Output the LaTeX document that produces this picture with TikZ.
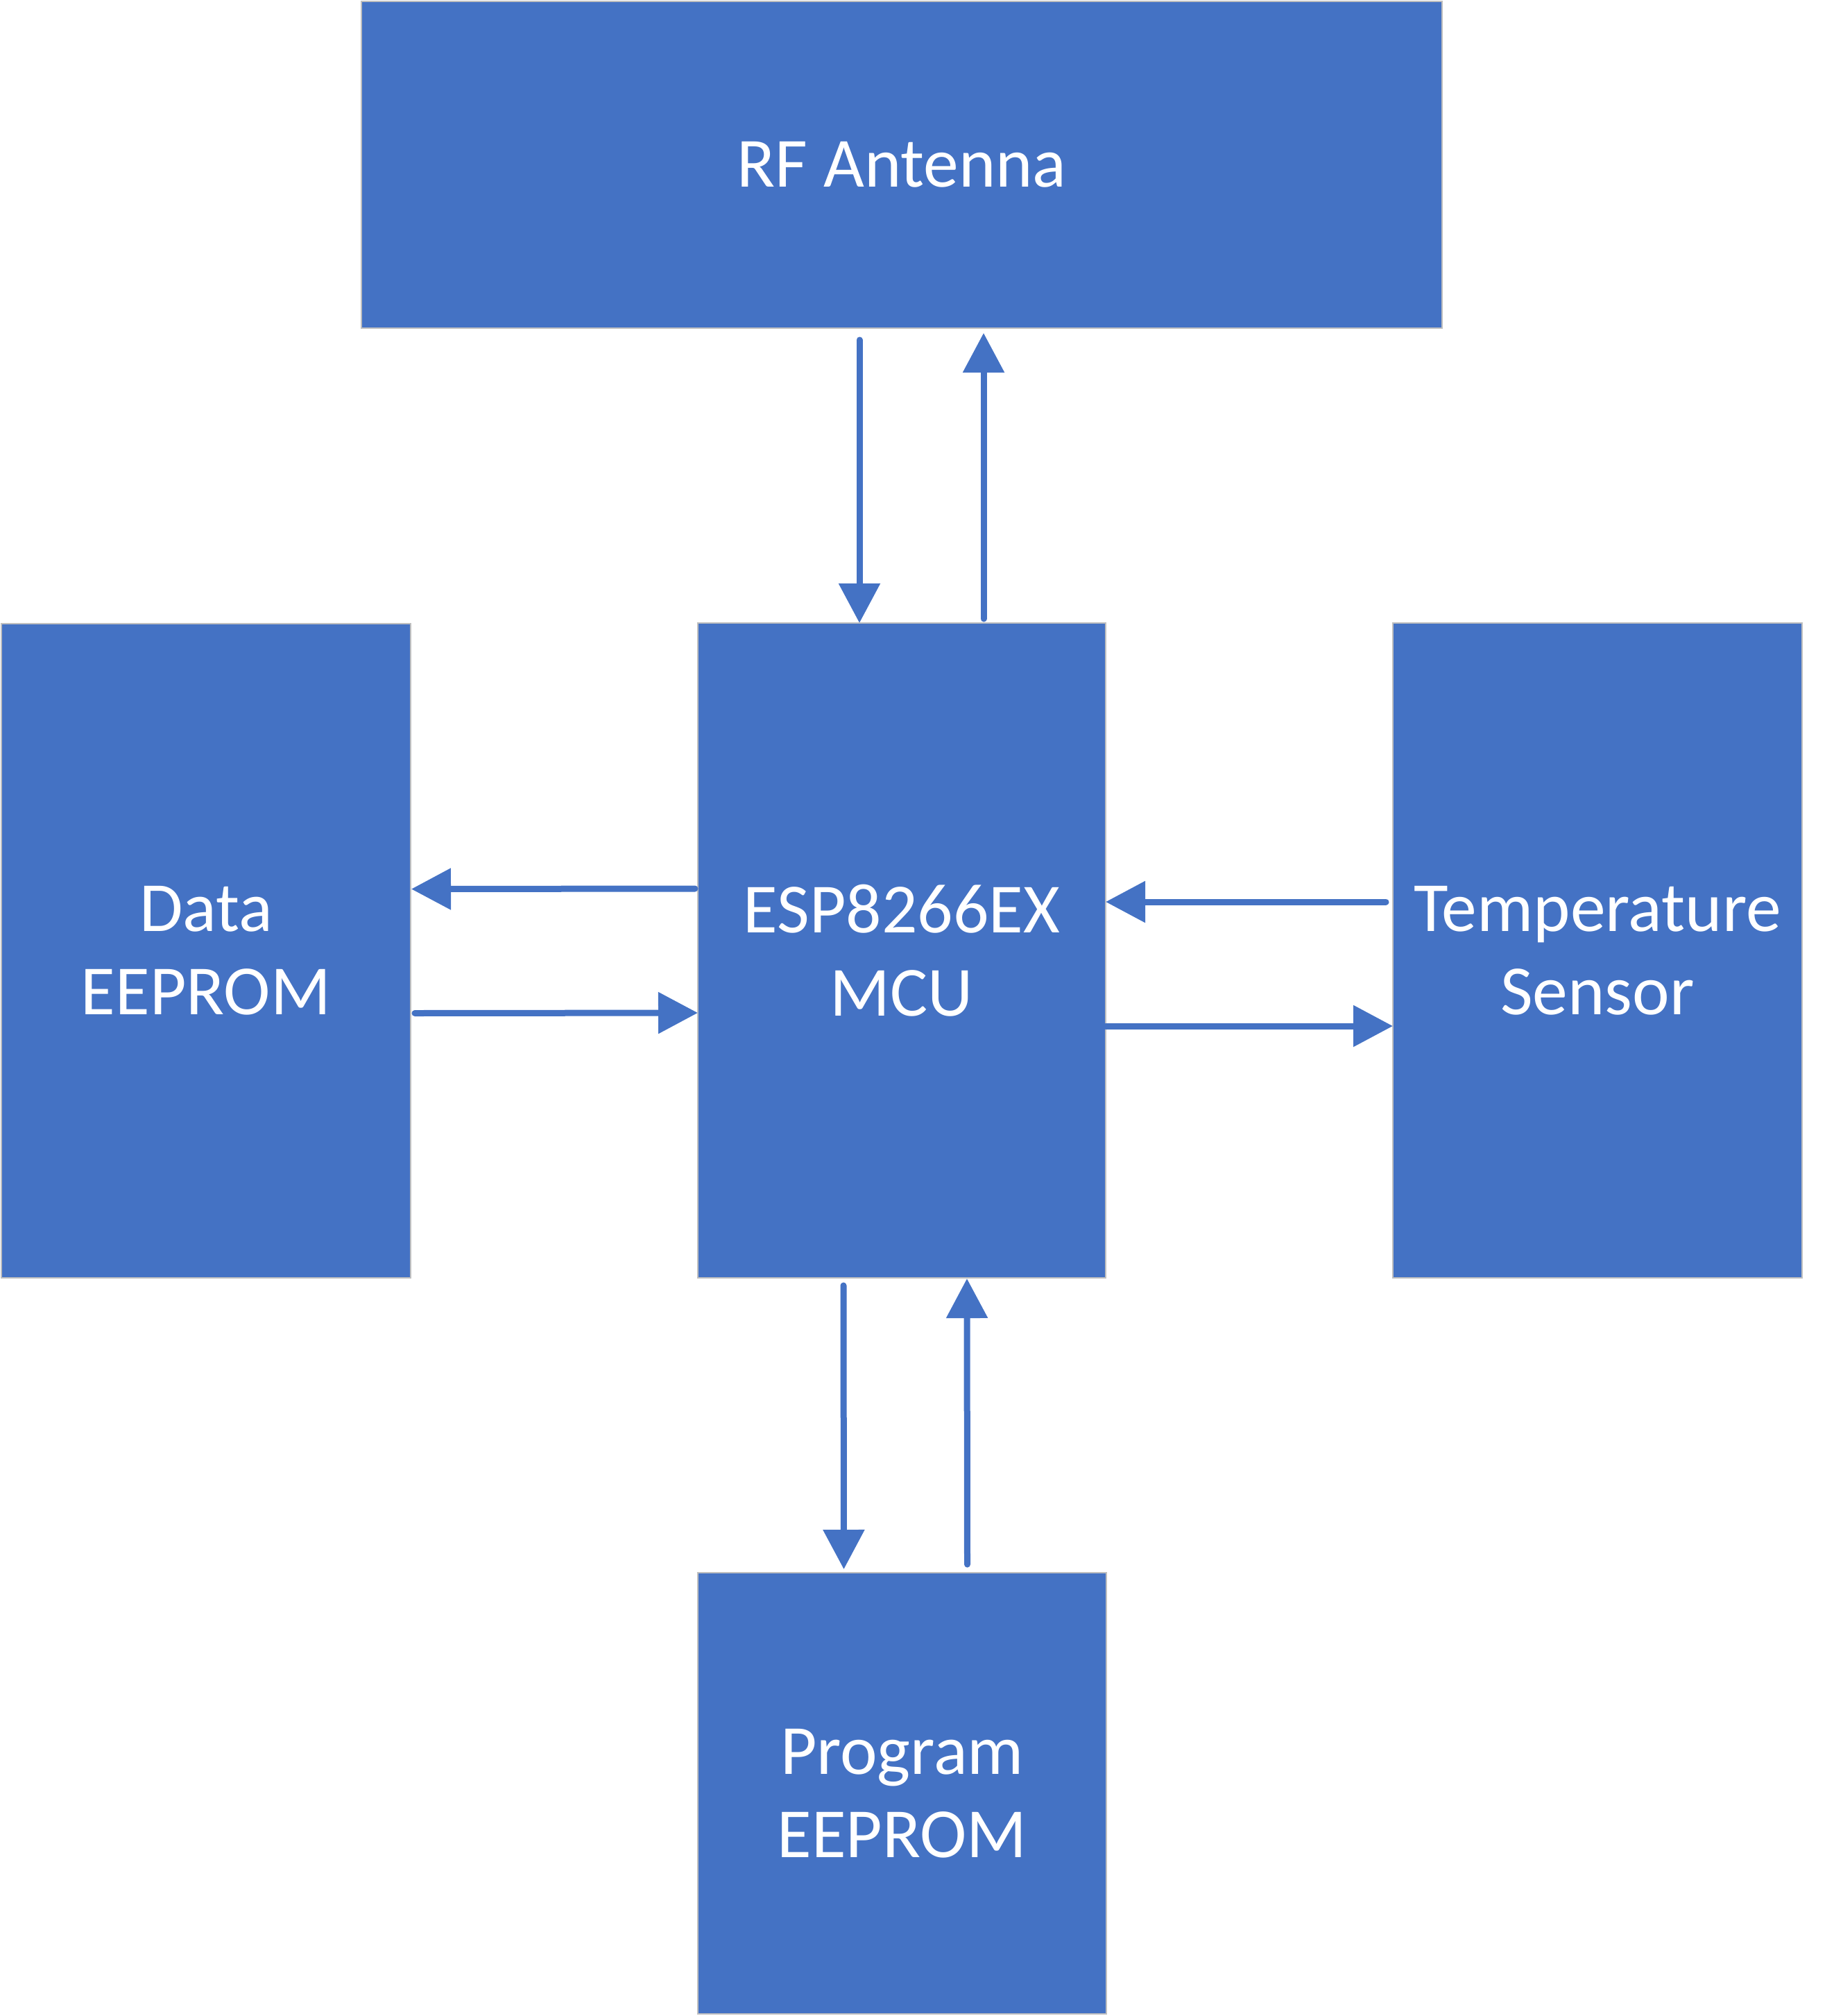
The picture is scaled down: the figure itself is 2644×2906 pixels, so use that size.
\documentclass[tikz,border=0pt]{standalone}
\usepackage{fontspec}
\setmainfont{Carlito}
\usetikzlibrary{arrows.meta,calc}
\definecolor{boxblue}{HTML}{4472C4}
\definecolor{edgegrey}{HTML}{BFBFBF}
\begin{document}
\begin{tikzpicture}[x=0.25bp,y=-0.25bp,
  box/.style={draw=edgegrey,line width=0.5bp,fill=boxblue,text=white,inner sep=0pt,outer sep=0pt,
    anchor=north west,align=center,font=\fontsize{25.4bp}{29.9bp}\selectfont},
  arr/.style={draw=boxblue,line width=2.25bp,line cap=round,-{Triangle[length=14.25bp,width=14.5bp]}}]
\useasboundingbox (0,0) rectangle (2644,2906);
\node[box,minimum width={1558*0.25bp},minimum height={471*0.25bp}] (rf) at (521,2) {RF Antenna};
\node[box,minimum width={590*0.25bp},minimum height={943*0.25bp}] (data) at (2,899) {Data\\EEPROM};
\node[box,minimum width={588*0.25bp},minimum height={944*0.25bp}] (esp) at (1006,898) {ESP8266EX\\MCU};
\node[box,minimum width={590*0.25bp},minimum height={944*0.25bp}] (temp) at (2008,898) {Temperature\\Sensor};
\node[box,minimum width={589*0.25bp},minimum height={636*0.25bp}] (prog) at (1006,2267) {Program\\EEPROM};
% RF <-> ESP
\draw[arr] ($(rf.south)+(-61,17)$) -- ($(esp.north)+(-61,0)$);
\draw[arr] ($(esp.north)+(118,-6)$) -- ($(rf.south)+(118,7)$);
% ESP <-> Data
\draw[arr] ($(esp.west)+(-4,-89)$) -- ($(data.east)+(1,-89)$);
\draw[arr] ($(data.east)+(6,90)$) -- ($(esp.west)+(0,90)$);
% Temp <-> ESP
\draw[arr] ($(temp.west)+(-10,-70)$) -- ($(esp.east)+(0,-70)$);
\draw[arr] ($(esp.east)+(0,109)$) -- ($(temp.west)+(0,109)$);
% ESP <-> Program
\draw[arr] ($(esp.south)+(-84,11)$) -- ($(prog.north)+(-84,-5)$);
\draw[arr] ($(prog.north)+(94,-12)$) -- ($(esp.south)+(94,1)$);
\end{tikzpicture}
\end{document}
